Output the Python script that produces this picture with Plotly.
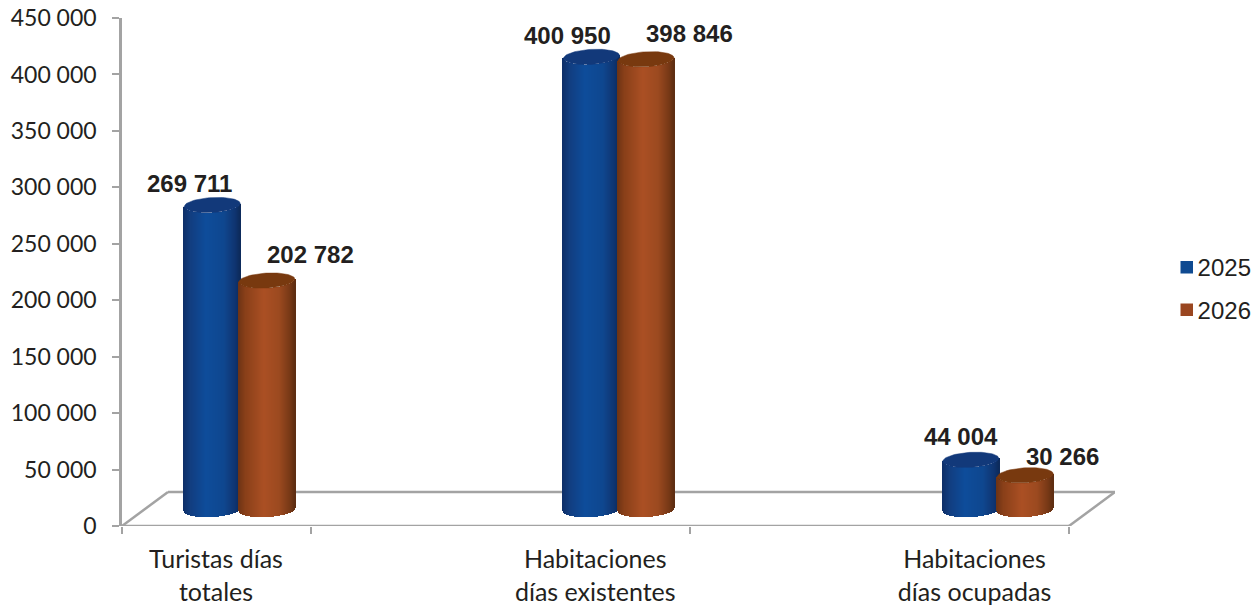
import numpy as np
import plotly.graph_objects as go

categories = ["Turistas días<br>totales", "Habitaciones<br>días existentes", "Habitaciones<br>días ocupadas"]
series_names = ["2025", "2026"]
values_2025 = [269711, 400950, 44004]
values_2026 = [202782, 398846, 30266]
labels_2025 = ["269 711", "400 950", "44 004"]
labels_2026 = ["202 782", "398 846", "30 266"]
y_ticks = [0, 50000, 100000, 150000, 200000, 250000, 300000, 350000, 400000, 450000]
y_tick_labels = ["0", "50 000", "100 000", "150 000", "200 000", "250 000", "300 000", "350 000", "400 000", "450 000"]

# Canvas layout
W, H = 1260, 608
L, R, T, B = 122, 145, 18, 82
plot_w = W - L - R
plot_h = H - T - B
PX_X = 1 / 379.25            # x units per px
PX_Y = 450000 / plot_h       # y units per px
X_MIN = -117.5 * PX_X
X_MAX = X_MIN + plot_w * PX_X
X_FRONT_END = X_MIN + 947 * PX_X
DEPTH_Y = 34 * PX_Y          # floor depth in y units
DEPTH_X = 46 * PX_X
BASE = 16.5 * PX_Y           # cylinder sits at mid depth of the floor

GROUP_OFF = 27.25 * PX_X
RX = 28 * PX_X
RY = 7.5 * PX_Y
TILT = 1.5 * PX_Y
GRAY = "#a3a3a3"
TEXT = "#231f20"

blue_stops = [(-1, "#0e2f69"), (-0.75, "#123e80"), (-0.2, "#0e4d9b"), (0.45, "#0f478f"), (0.85, "#0f3470"), (1, "#0d2b5c")]
orange_stops = [(-1, "#6e3415"), (-0.75, "#8a4019"), (-0.1, "#ab5024"), (0.45, "#9c4a20"), (0.85, "#763816"), (1, "#5f2e12")]
top_colors = {"2025": "#12397a", "2026": "#78390f"}
swatches = {"2025": "#0f4a91", "2026": "#9a4620"}
stops_by = {"2025": blue_stops, "2026": orange_stops}
swatch_tops_px = {"2025": 261, "2026": 303.5}


def rgb(h):
    return [int(h[i:i + 2], 16) for i in (1, 3, 5)]


def shade(stops, t):
    ts = [s[0] for s in stops]
    cs = np.array([rgb(s[1]) for s in stops], float)
    c = [np.interp(t, ts, cs[:, k]) for k in range(3)]
    return "rgb(%d,%d,%d)" % tuple(c)


fig = go.Figure()
annotations = []
label_offsets = {
    "2025": [(-23, 22), (-24, 21), (-10, 23)],
    "2026": [(44, 26), (43, 26), (37, 19)],
}

strips = np.linspace(-1, 1, 57)
step = strips[1] - strips[0]
for si, (name, vals, labs, sign) in enumerate(zip(series_names, [values_2025, values_2026], [labels_2025, labels_2026], [-1, 1])):
    xs, bases, heights, colors = [], [], [], []
    for ci, v in enumerate(vals):
        cx = ci + sign * GROUP_OFF
        for t in strips:
            bulge = RY * np.sqrt(max(0, 1 - t * t))
            y_high = BASE + v - bulge + TILT * t
            y_low = BASE - bulge + TILT * t
            xs.append(cx + t * RX)
            bases.append(y_low)
            heights.append(y_high - y_low)
            colors.append(shade(stops_by[name], t))
    fig.add_trace(go.Bar(
        x=xs, y=heights, base=bases,
        width=[step * RX * 1.2] * len(xs),
        marker=dict(color=colors, line=dict(width=0)),
        showlegend=False, hoverinfo="skip",
    ))
    # elliptical tops
    for ci, v in enumerate(vals):
        cx = ci + sign * GROUP_OFF
        a = np.linspace(0, 2 * np.pi, 80)
        ex = cx + RX * np.cos(a)
        ey = BASE + v + RY * np.sin(a) + TILT * np.cos(a)
        fig.add_trace(go.Scatter(
            x=ex, y=ey, mode="lines", fill="toself", fillcolor=top_colors[name],
            line=dict(width=0.5, color=top_colors[name]),
            showlegend=False, hoverinfo="skip",
        ))
        dx, dy = label_offsets[name][ci]
        annotations.append(dict(
            x=cx, y=BASE + v, xref="x", yref="y", text=labs[ci], showarrow=False,
            xshift=dx, yshift=dy,
            font=dict(family="Liberation Sans", size=24, color=TEXT, weight="bold"),
        ))
    # legend entry; its visible swatch is placed closer to the text below
    fig.add_trace(go.Scatter(
        x=[None], y=[None], mode="markers", name=name,
        marker=dict(symbol="square", size=12, color="rgba(0,0,0,0)", line=dict(width=0)),
        legendgroup=name,
    ))

# floor drawn behind the bars
floor_line = dict(color=GRAY, width=2.5)
shapes = [
    dict(type="line", xref="x", yref="y", layer="below", x0=X_MIN, y0=0, x1=X_MIN + DEPTH_X, y1=DEPTH_Y, line=floor_line),
    dict(type="line", xref="x", yref="y", layer="below", x0=X_MIN + DEPTH_X, y0=DEPTH_Y, x1=X_MAX, y1=DEPTH_Y, line=floor_line),
    dict(type="line", xref="x", yref="y", layer="below", x0=X_MAX, y0=DEPTH_Y, x1=X_FRONT_END, y1=0, line=floor_line),
    dict(type="line", xref="x", yref="y", layer="below", x0=X_MIN, y0=0, x1=X_FRONT_END, y1=0, line=floor_line),
]
for name in series_names:
    top = swatch_tops_px[name]
    shapes.append(dict(
        type="rect", xref="paper", yref="paper",
        x0=(1180.5 - L) / plot_w, x1=(1193 - L) / plot_w,
        y0=1 - (top + 12.5 - T) / plot_h, y1=1 - (top - T) / plot_h,
        fillcolor=swatches[name], line=dict(width=0),
    ))

label_x = [i - 23.5 * PX_X for i in range(3)]
tick_px_x = [X_MIN, X_MIN + 189 * PX_X, X_MIN + 568 * PX_X, X_MIN + 947 * PX_X]

fig.update_layout(
    width=W, height=H,
    margin=dict(l=L, r=R, t=T, b=B, autoexpand=False),
    paper_bgcolor="white", plot_bgcolor="white",
    barmode="overlay", bargap=0,
    shapes=shapes,
    annotations=annotations,
    xaxis=dict(
        range=[X_MIN, X_MAX], showgrid=False, zeroline=False, showline=False,
        tickmode="array", tickvals=label_x, ticktext=categories, ticks="",
        tickangle=0, ticklabelstandoff=16,
        tickfont=dict(family="Lato", size=25, color=TEXT),
        minor=dict(tickmode="array", tickvals=tick_px_x, ticks="outside", ticklen=7, tickwidth=2, tickcolor=GRAY, showgrid=False),
    ),
    yaxis=dict(
        range=[0, 450000], showgrid=False, zeroline=False,
        showline=True, linecolor=GRAY, linewidth=2.5,
        tickmode="array", tickvals=y_ticks, ticktext=y_tick_labels,
        ticks="outside", ticklen=7, tickwidth=2, tickcolor=GRAY, ticklabelstandoff=11,
        tickfont=dict(family="Lato", size=23, color=TEXT),
    ),
    legend=dict(
        x=1.0429, y=0.555, xanchor="left", yanchor="top",
        font=dict(family="Liberation Sans", size=24, color=TEXT),
        traceorder="grouped", tracegroupgap=9,
        itemclick=False, itemdoubleclick=False,
        bgcolor="rgba(0,0,0,0)",
    ),
)

fig.write_html(
    "out.html",
    config={"displayModeBar": False},
    post_script="document.documentElement.style.overflow='hidden';document.body.style.margin='0';",
)
